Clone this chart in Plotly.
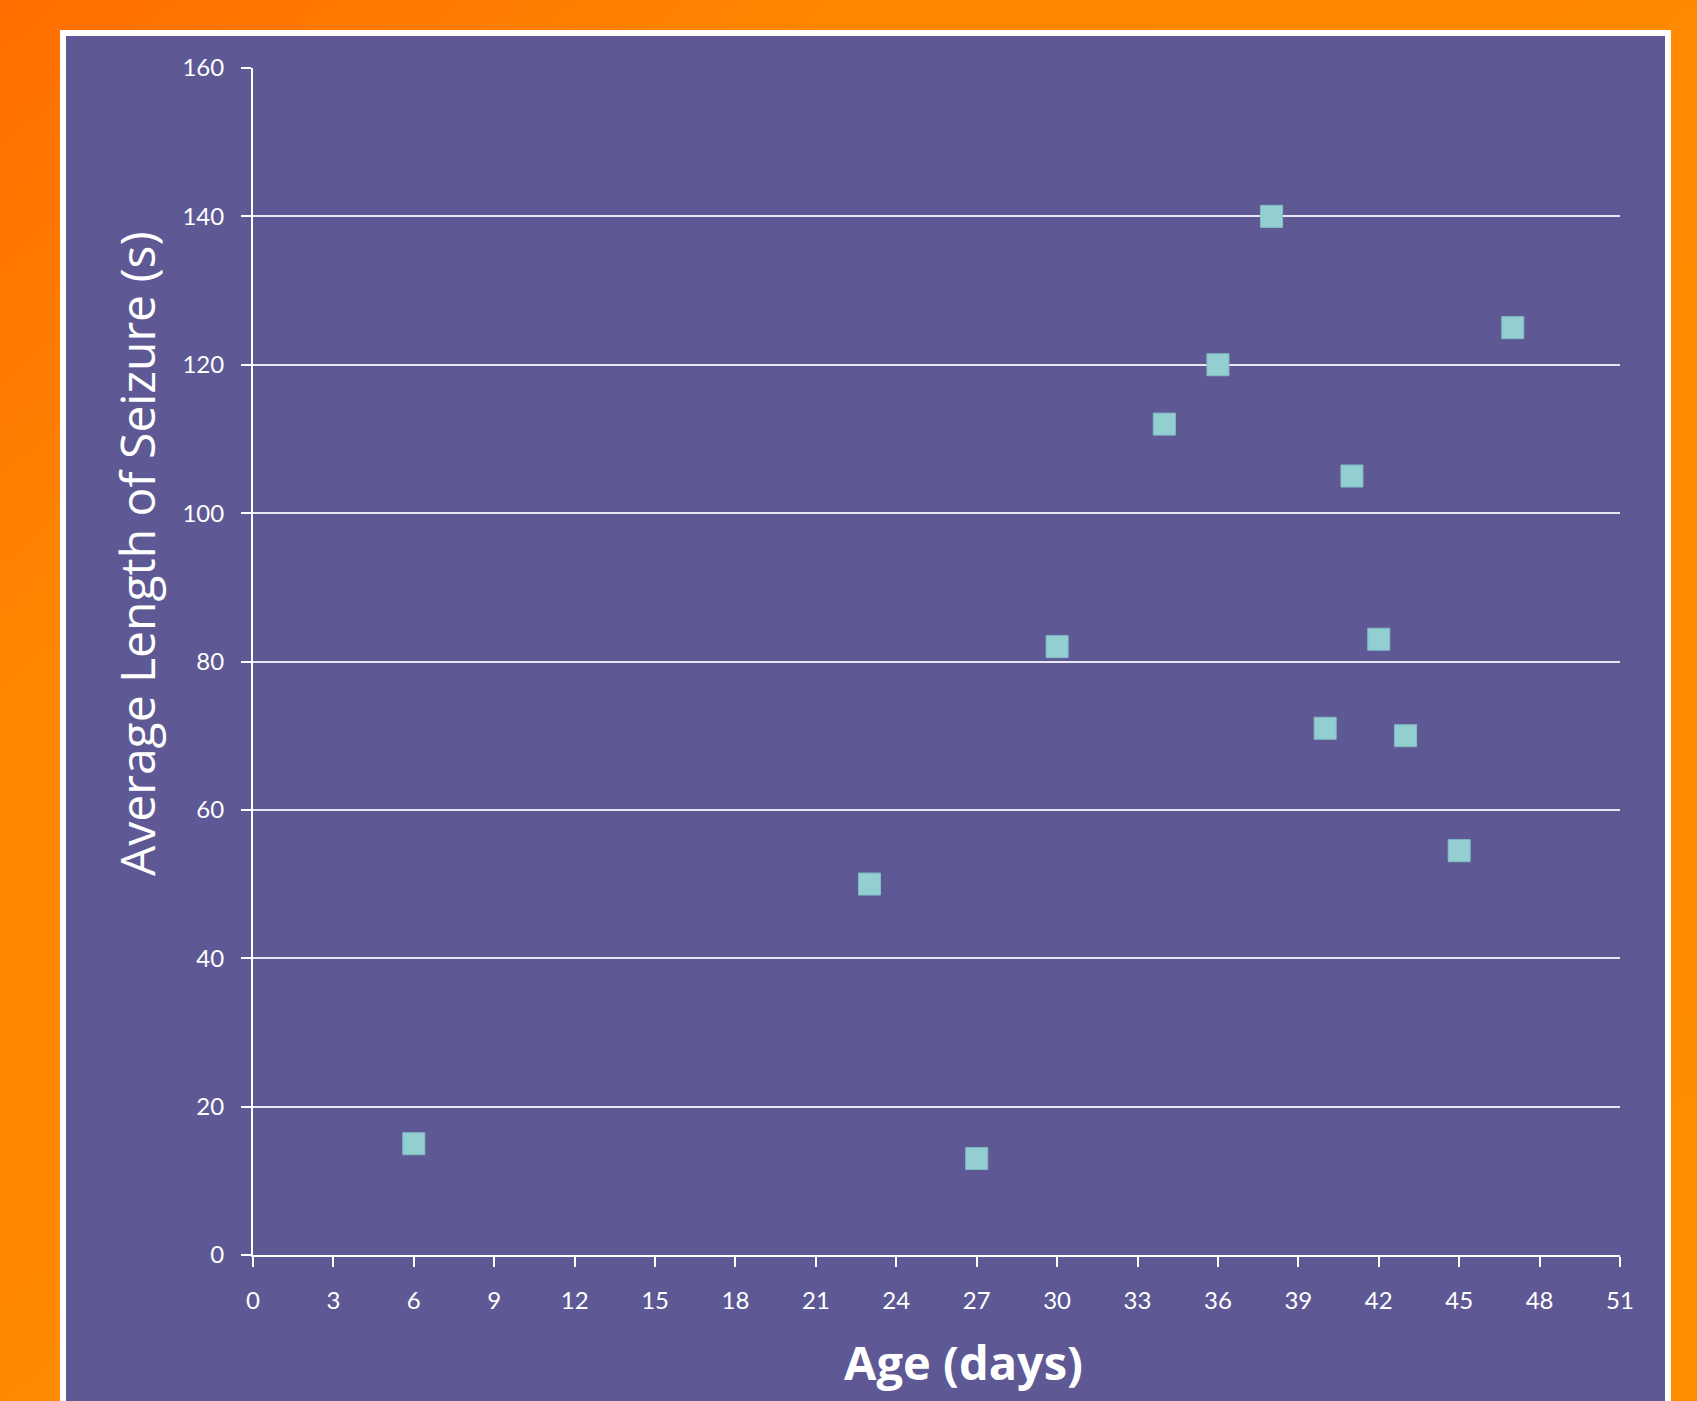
import base64
import plotly.graph_objects as go

# Seizure duration by age
age_days = [6, 23, 27, 30, 34, 36, 38, 40, 41, 42, 43, 45, 47]
avg_seizure_s = [15, 50, 13, 82, 112, 120, 140, 71, 105, 83, 70, 54.5, 125]

x_ticks = list(range(0, 52, 3))
y_ticks = list(range(0, 161, 20))

W, H = 1697, 1401
L, R, T, B = 253, 77, 68, 146
PW, PH = W - L - R, H - T - B


def px_x(p):
    return (p - L) / PW


def px_y(p):
    return (H - B - p) / PH


# Orange gradient backdrop as an inline SVG image
svg = (
    f'<svg xmlns="http://www.w3.org/2000/svg" width="{W}" height="{H}">'
    '<defs><linearGradient id="g" x1="0" y1="0" x2="1" y2="1">'
    '<stop offset="0" stop-color="#FF6E00"/>'
    '<stop offset="0.25" stop-color="#FF8600"/>'
    '<stop offset="1" stop-color="#FF8E00"/>'
    '</linearGradient></defs>'
    f'<rect width="{W}" height="{H}" fill="url(#g)"/></svg>'
)
svg_uri = "data:image/svg+xml;base64," + base64.b64encode(svg.encode()).decode()

purple = "#5E5994"
tick_family = "Lato, 'Open Sans', sans-serif"
title_family = "'Open Sans', Lato, sans-serif"

fig = go.Figure()
fig.add_trace(go.Scatter(
    x=age_days,
    y=avg_seizure_s,
    mode="markers",
    marker=dict(symbol="square", size=22, color="#93CED1",
                line=dict(width=1, color="#84BCC6")),
    hoverinfo="x+y",
    showlegend=False,
))

fig.update_layout(
    width=W,
    height=H,
    margin=dict(l=L, r=R, t=T, b=B),
    paper_bgcolor="#FF8A00",
    plot_bgcolor=purple,
    font=dict(family=tick_family, color="white"),
    images=[dict(
        source=svg_uri, xref="paper", yref="paper",
        x=px_x(0), y=px_y(0), sizex=W / PW, sizey=H / PH,
        xanchor="left", yanchor="top", sizing="stretch", layer="below",
    )],
    shapes=[dict(
        type="rect", xref="paper", yref="paper",
        x0=px_x(63), x1=px_x(1668), y0=px_y(1460), y1=px_y(33),
        line=dict(color="white", width=6), fillcolor=purple, layer="below",
    )],
    annotations=[
        dict(text="Average Length of Seizure (s)", xref="paper", yref="paper",
             x=px_x(136), y=px_y(554), textangle=-90, showarrow=False,
             xanchor="center", yanchor="middle",
             font=dict(size=48, color="white", family=title_family)),
        dict(text="<b>Age (days)</b>", xref="paper", yref="paper",
             x=px_x(963), y=px_y(1362), showarrow=False,
             xanchor="center", yanchor="middle",
             font=dict(size=47, color="white", family=title_family)),
    ],
)

fig.update_xaxes(
    range=[0, 51],
    tickvals=x_ticks,
    ticktext=[str(v) for v in x_ticks],
    showgrid=False,
    zeroline=False,
    showline=True, linecolor="white", linewidth=2,
    ticks="outside", ticklen=10, tickwidth=2, tickcolor="white",
    tickfont=dict(size=24, color="white"),
    ticklabelstandoff=13,
)
fig.update_yaxes(
    range=[0, 160],
    tickvals=y_ticks,
    ticktext=[str(v) for v in y_ticks],
    showgrid=True, gridcolor="#E9E8F2", gridwidth=2,
    zeroline=False,
    showline=True, linecolor="white", linewidth=2,
    ticks="outside", ticklen=10, tickwidth=2, tickcolor="white",
    tickfont=dict(size=24, color="white"),
    ticklabelstandoff=12,
)

fig.write_html("out.html")
